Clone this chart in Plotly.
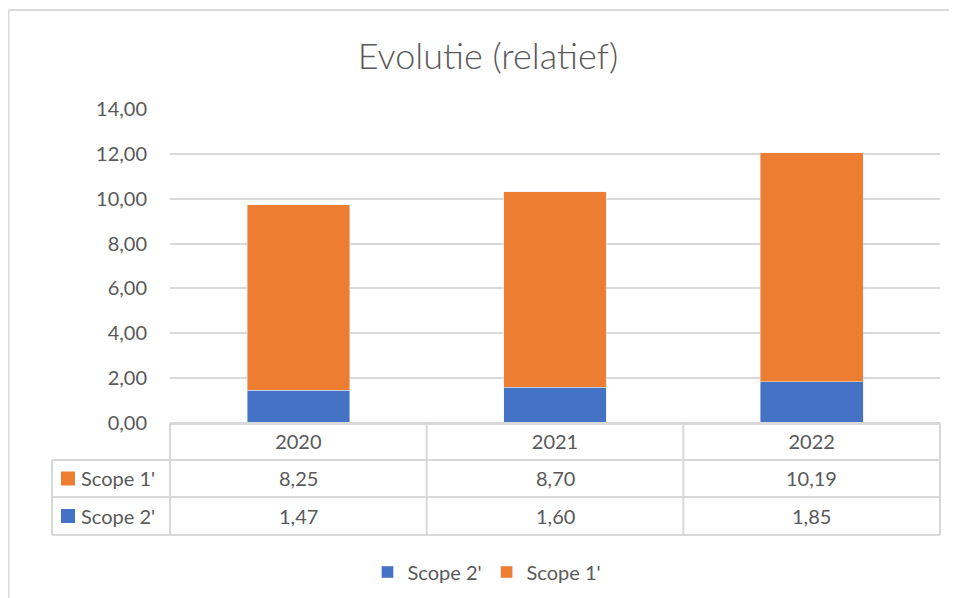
import plotly.graph_objects as go

years = ["2020", "2021", "2022"]
scope1 = [8.25, 8.70, 10.19]
scope2 = [1.47, 1.60, 1.85]
y_ticks = [0, 2, 4, 6, 8, 10, 12, 14]

blue = "#4472C4"
orange = "#ED7D31"
grey_txt = "#595959"
line_col = "#D9D9D9"
font_name = "Lato, Open Sans, sans-serif"

# positions measured on the screen (the page body has an 8px margin)
OFF = 8
W, H = 957 - OFF, 598 - OFF
plot_l, plot_r, plot_t, plot_b = 170, 940, 109, 423
pw, ph = plot_r - plot_l, plot_b - plot_t


def px(x):
    return (x - plot_l) / pw


def py(y):
    return (plot_b - y) / ph


fig = go.Figure()
fig.add_trace(go.Bar(x=years, y=scope2, name="Scope 2'", marker_color=blue, width=0.4))
fig.add_trace(go.Bar(x=years, y=scope1, name="Scope 1'", marker_color=orange, width=0.4))

shapes = []
# table grid below the plot
row_lines = [423, 460, 497, 535]
left_x = px(52)
for i, yy in enumerate(row_lines):
    x0 = 0 if i == 0 else left_x
    shapes.append(dict(type="line", xref="paper", yref="paper", x0=x0, x1=1, y0=py(yy), y1=py(yy),
                       line=dict(color=line_col, width=2)))
for c in range(len(years) + 1):
    xx = c / len(years)
    shapes.append(dict(type="line", xref="paper", yref="paper", x0=xx, x1=xx, y0=py(423), y1=py(535),
                       line=dict(color=line_col, width=2)))
shapes.append(dict(type="line", xref="paper", yref="paper", x0=left_x, x1=left_x, y0=py(460), y1=py(535),
                   line=dict(color=line_col, width=2)))
# outer chart frame
shapes.append(dict(type="line", xref="paper", yref="paper", x0=px(8.5), x1=px(960), y0=py(10), y1=py(10),
                   line=dict(color=line_col, width=2)))
shapes.append(dict(type="line", xref="paper", yref="paper", x0=px(8.5), x1=px(8.5), y0=py(10), y1=py(600),
                   line=dict(color=line_col, width=2)))

annotations = []
rows = [("Scope 1'", orange, scope1, 478.5), ("Scope 2'", blue, scope2, 516)]
for name, col, vals, yy in rows:
    shapes.append(dict(type="rect", xref="paper", yref="paper", x0=px(61), x1=px(75),
                       y0=py(yy - 7), y1=py(yy + 7), fillcolor=col, line=dict(width=0)))
    annotations.append(dict(xref="paper", yref="paper", x=px(79), y=py(yy), xanchor="left", yanchor="middle",
                            text=name, showarrow=False,
                            font=dict(size=20, color=grey_txt, family=font_name)))
    for i, v in enumerate(vals):
        annotations.append(dict(xref="paper", yref="paper", x=(i + 0.5) / len(years), y=py(yy),
                                xanchor="center", yanchor="middle",
                                text=f"{v:.2f}".replace(".", ","), showarrow=False,
                                font=dict(size=20, color=grey_txt, family=font_name)))

fig.update_layout(
    width=W, height=H,
    margin=dict(l=plot_l - OFF, r=W - (plot_r - OFF), t=plot_t - OFF, b=H - (plot_b - OFF), autoexpand=False),
    barmode="stack",
    separators=",.",
    paper_bgcolor="white", plot_bgcolor="white",
    font=dict(family=font_name, color=grey_txt, size=20),
    title=dict(text="Evolutie (relatief)", x=(488 - OFF) / W, xanchor="center", y=1 - (56 - OFF) / H,
               yanchor="middle", font=dict(size=36, color=grey_txt, family=font_name, weight=300)),
    xaxis=dict(type="category", range=[-0.5, 2.5], showgrid=False, showline=True, linecolor=line_col,
               linewidth=2, ticks="", ticklabelstandoff=0, automargin=False,
               tickfont=dict(size=20, color=grey_txt)),
    yaxis=dict(range=[0, 14], tickvals=y_ticks, tickformat=".2f", showgrid=True, gridcolor=line_col,
               gridwidth=2, zeroline=False, ticks="", ticklabelstandoff=22, automargin=False,
               tickfont=dict(size=20, color=grey_txt)),
    legend=dict(orientation="h", x=px(487), y=py(572), xanchor="center", yanchor="middle",
                font=dict(size=20, color=grey_txt), traceorder="normal", itemwidth=30),
    shapes=shapes,
    annotations=annotations,
)

fig.write_html("out.html")
